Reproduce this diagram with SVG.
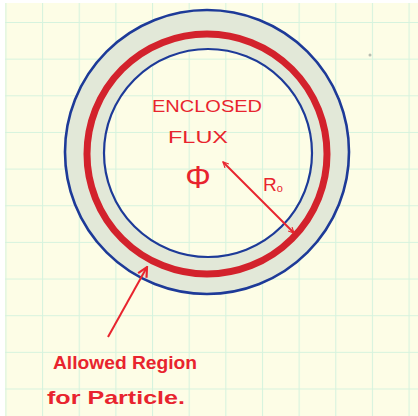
<svg xmlns="http://www.w3.org/2000/svg" width="418" height="416" viewBox="0 0 418 416">
  <defs>
    <pattern id="grid" x="5.4" y="22" width="36.65" height="36.65" patternUnits="userSpaceOnUse">
      <path d="M 0 0 L 0 36.65 M 0 0 L 36.65 0" fill="none" stroke="#d6f3de" stroke-width="2.2"/>
    </pattern>
    <marker id="ah" viewBox="0 0 10 10" refX="9" refY="5" markerWidth="7" markerHeight="7" orient="auto-start-reverse" markerUnits="userSpaceOnUse">
      <path d="M 1 1 L 9 5 L 1 9" fill="none" stroke="#e8242e" stroke-width="1.6"/>
    </marker>
    <marker id="ah2" viewBox="0 0 10 10" refX="9" refY="5" markerWidth="12" markerHeight="12" orient="auto" markerUnits="userSpaceOnUse">
      <path d="M 1 1 L 9 5 L 1 9" fill="none" stroke="#e8242e" stroke-width="1.8"/>
    </marker>
  </defs>
  <style>
    .lbl { font-family: "Liberation Sans", "DejaVu Sans", sans-serif; fill: #e8242e; }
    .conn { fill: none; stroke: #e8242e; stroke-width: 2; }
  </style>
  <rect x="0" y="0" width="418" height="416" fill="#ffffff"/>
  <rect x="5" y="3" width="413" height="413" fill="#fdfde6"/>
  <rect x="5" y="3" width="413" height="413" fill="url(#grid)"/>
  <circle cx="370" cy="55" r="1.5" fill="#9aa39a" opacity="0.7"/>

  <g id="ring">
    <circle cx="207.5" cy="152.5" r="123" fill="none" stroke="#e2e8d8" stroke-width="38"/>
    <circle cx="207" cy="152" r="142" fill="none" stroke="#1d3a98" stroke-width="2.6"/>
    <circle cx="208" cy="153" r="104" fill="none" stroke="#1d3a98" stroke-width="2.2"/>
    <circle cx="207" cy="154" r="120" fill="none" stroke="#d3222c" stroke-width="7"/>
  </g>

  <g id="flux-label">
    <text class="lbl" x="152" y="112" font-size="17" textLength="110" lengthAdjust="spacingAndGlyphs">ENCLOSED</text>
    <text class="lbl" x="168" y="143" font-size="17" textLength="60" lengthAdjust="spacingAndGlyphs">FLUX</text>
    <text class="lbl" x="198" y="188" font-size="32" text-anchor="middle">Φ</text>
  </g>

  <g id="radius-label">
    <text class="lbl" x="263" y="191" font-size="19">R<tspan font-size="11" dy="1">o</tspan></text>
  </g>

  <g id="region-label">
    <text class="lbl" x="53" y="369" font-size="19" font-weight="bold" textLength="144" lengthAdjust="spacingAndGlyphs">Allowed Region</text>
    <text class="lbl" x="47" y="404" font-size="19" font-weight="bold" textLength="138" lengthAdjust="spacingAndGlyphs">for Particle.</text>
  </g>

  <g id="connectors">
    <line class="conn" x1="223" y1="162" x2="294" y2="233" marker-start="url(#ah)" marker-end="url(#ah)"/>
    <line class="conn" x1="108" y1="337" x2="147" y2="267" marker-end="url(#ah2)"/>
  </g>
</svg>
